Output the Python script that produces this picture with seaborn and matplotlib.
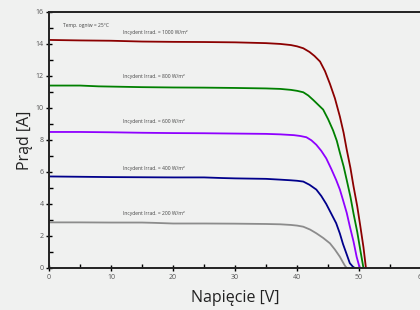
import matplotlib
matplotlib.use("Agg")
import matplotlib.pyplot as plt
import pandas as pd
import seaborn as sns
from matplotlib.ticker import MultipleLocator

# Charakterystyki I-V modułu PV dla różnych natężeń promieniowania
irrad = [1000, 800, 600, 400, 200]
kolory = ["#8b0000", "#008000", "#8f00ff", "#00008b", "#8c8c8c"]

v_1000 = [0, 5, 10, 15, 20, 25, 30, 35, 37.3, 39, 40, 41.0, 42.0, 42.8, 43.7, 44.5, 45.3, 46.1, 46.9, 47.5, 48.0, 48.6, 49.1, 49.7, 50.2, 50.7, 51.1]
i_1000 = [14.25, 14.22, 14.2, 14.15, 14.13, 14.12, 14.1, 14.05, 14.0, 13.93, 13.85, 13.73, 13.5, 13.25, 12.9, 12.3, 11.5, 10.6, 9.46, 8.45, 7.4, 6.25, 5.1, 3.85, 2.6, 1.3, 0]

v_800 = [0, 5, 8, 15, 20, 25, 30, 35, 37.3, 39, 40, 41.0, 41.8, 42.6, 43.4, 44.2, 45.0, 45.8, 46.4, 46.9, 47.5, 48.0, 48.6, 49.1, 49.7, 50.2, 50.7]
i_800 = [11.4, 11.4, 11.35, 11.3, 11.28, 11.27, 11.25, 11.22, 11.19, 11.13, 11.07, 10.98, 10.78, 10.5, 10.2, 9.9, 9.3, 8.6, 7.95, 7.2, 6.35, 5.5, 4.45, 3.4, 2.25, 1.1, 0]

v_600 = [0, 5, 10, 15, 20, 25, 30, 35, 37.3, 39.5, 40.5, 41.5, 42.3, 43.1, 43.9, 44.7, 45.5, 46.3, 46.9, 47.4, 48.0, 48.5, 49.1, 49.6, 50.1]
i_600 = [8.5, 8.5, 8.48, 8.45, 8.43, 8.42, 8.4, 8.38, 8.35, 8.3, 8.25, 8.17, 7.98, 7.7, 7.32, 6.85, 6.2, 5.5, 4.9, 4.25, 3.45, 2.6, 1.65, 0.7, 0]

v_400 = [0, 5, 10, 15, 20, 25, 28, 30, 35, 37.3, 39, 40, 41.0, 42.0, 43.1, 43.9, 44.7, 45.5, 46.3, 46.9, 47.4, 48.0, 48.5, 49.0, 49.3]
i_400 = [5.72, 5.7, 5.68, 5.67, 5.66, 5.66, 5.62, 5.6, 5.57, 5.52, 5.48, 5.45, 5.4, 5.2, 4.9, 4.5, 4.0, 3.4, 2.8, 2.15, 1.5, 0.85, 0.3, 0.08, 0]

v_200 = [0, 5, 10, 15, 17, 20, 25, 30, 35, 37.3, 39, 40, 41.0, 42.1, 43.1, 44.2, 45.3, 46.1, 46.9, 47.3, 47.7, 48.0]
i_200 = [2.85, 2.85, 2.84, 2.84, 2.82, 2.78, 2.78, 2.77, 2.75, 2.73, 2.69, 2.65, 2.58, 2.4, 2.17, 1.88, 1.54, 1.15, 0.7, 0.42, 0.15, 0]

napiecia = [v_1000, v_800, v_600, v_400, v_200]
prady = [i_1000, i_800, i_600, i_400, i_200]
etykiety_y = [14.65, 11.85, 9.05, 6.15, 3.3]

frames = []
for g, v, i in zip(irrad, napiecia, prady):
    frames.append(pd.DataFrame({"V": v, "I": i, "G": g}))
df = pd.concat(frames, ignore_index=True)

sns.set_style("white")
plt.rcParams["font.family"] = ["Open Sans", "DejaVu Sans"]
tlo = "#f0f1f0"

fig = plt.figure(figsize=(4.2, 3.1), dpi=100, facecolor=tlo)
ax = fig.add_axes([0.1167, 0.1355, 0.886, 0.826])
ax.set_facecolor(tlo)

sns.lineplot(data=df, x="V", y="I", hue="G", hue_order=irrad, palette=kolory,
             sort=False, estimator=None, linewidth=1.3, legend=False, ax=ax)

for g, y in zip(irrad, etykiety_y):
    ax.text(12, y, f"Incydent Irrad. = {g} W/m²", fontsize=3.6, color="#444444")
ax.text(2.3, 15.05, "Temp. ogniw = 25°C", fontsize=3.6, color="#444444")

ax.set_xlim(0, 60)
ax.set_ylim(0, 16)
ax.xaxis.set_major_locator(MultipleLocator(10))
ax.xaxis.set_minor_locator(MultipleLocator(5))
ax.yaxis.set_major_locator(MultipleLocator(2))
ax.yaxis.set_minor_locator(MultipleLocator(1))
ax.tick_params(which="major", direction="inout", length=5, width=1, colors="black",
               labelsize=5, labelcolor="#555555", pad=1.5)
ax.tick_params(which="minor", direction="in", length=3, width=1, colors="black")
ax.tick_params(axis="x", which="both", bottom=True)
ax.tick_params(axis="y", which="both", left=True)
for s in ax.spines.values():
    s.set_color("#222222")
    s.set_linewidth(1.4)

ax.set_xlabel("Napięcie [V]", fontsize=11.5, color="#222222", labelpad=7)
ax.set_ylabel("Prąd [A]", fontsize=11.5, color="#222222", labelpad=2)

# ucięty tytuł u góry
fig.text(0.752, 1.025, "(", fontsize=12, color="#f5a623", ha="center", va="center")
fig.text(0.925, 1.025, ")", fontsize=12, color="#f5a623", ha="center", va="center")

fig.savefig("out.png", dpi=100, facecolor=tlo)
